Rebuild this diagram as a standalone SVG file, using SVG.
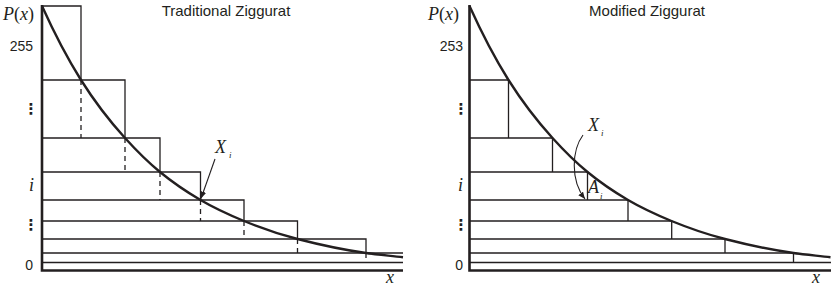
<svg xmlns="http://www.w3.org/2000/svg" width="831" height="288" viewBox="0 0 831 288">
<style>
.ln{stroke:#231f20;stroke-width:1.3;fill:none}
.dash{stroke:#231f20;stroke-width:1.3;fill:none;stroke-dasharray:5 4}
.ax{stroke:#231f20;stroke-width:2.6;fill:none}
.cv{stroke:#231f20;stroke-width:2.4;fill:none}
.ar{stroke:#231f20;stroke-width:1.1;fill:none}
.ttl{font-family:"Liberation Sans",Arial,sans-serif;font-size:15px;fill:#231f20}
.num{font-family:"Liberation Sans",Arial,sans-serif;font-size:14px;fill:#231f20}
.m{font-family:"Liberation Serif","Times New Roman",serif;font-size:18px;fill:#231f20}
.mi{font-style:italic}
.sub{font-family:"Liberation Serif","Times New Roman",serif;font-style:italic;font-size:9px;fill:#231f20}
.dots{font-family:"DejaVu Sans",sans-serif;font-size:15px;font-weight:bold;fill:#231f20}
</style>
<defs>
<path id="curve" d="M42,6 C55,34.8 68,59.3 81,80 C95.7,103.4 110.3,121.8 125,138 C136.7,150.9 148.3,162.4 160,172 C173.5,183.1 187,192.1 200.5,200 C215,208.5 229.5,215 244,221 C261.8,228.3 279.7,234.4 297.5,239 C320.3,244.9 343.2,249.8 366,253 C378.3,254.8 390.7,255.7 403,257.2"/>
<marker id="ah" markerUnits="userSpaceOnUse" markerWidth="8" markerHeight="6" refX="7" refY="3" orient="auto">
<path d="M0,0 L7,3 L0,6 z" fill="#231f20"/>
</marker>
</defs>

<g id="traditional">
<g id="trad-title"><text class="ttl" x="226" y="16" text-anchor="middle">Traditional Ziggurat</text></g>
<g id="trad-labels">
<text class="m" x="3" y="20"><tspan class="mi">P</tspan>(<tspan class="mi">x</tspan>)</text>
<text class="num" x="33" y="51" text-anchor="end">255</text>
<text class="dots" x="31" y="114" text-anchor="middle">⋮</text>
<text class="m mi" x="29" y="191">i</text>
<text class="dots" x="31" y="230" text-anchor="middle">⋮</text>
<text class="num" x="33" y="270" text-anchor="end">0</text>
<text class="m mi" x="386" y="283">x</text>
<text class="m mi" x="215" y="153">X</text>
<text class="sub" x="229" y="158">i</text>
</g>
<g id="trad-blocks">
<path class="ln" d="M42,6H81V80 M42,80H125V138 M42,138H160V172 M42,172H200.5V200 M42,200H244V221 M42,221H297.5V239 M42,239H366V253 M42,253H403 M42,262.5H403"/>
<path class="dash" d="M81,80V138 M125,138V172 M160,172V200 M200.5,200V221 M244,221V239 M297.5,239V253 M366,253V262.5"/>
</g>
<g id="trad-axes"><path class="ax" d="M42,5V270.5H403"/></g>
<use href="#curve" class="cv"/>
<g id="trad-connectors"><path class="ar" d="M215,159 L201,198.5" marker-end="url(#ah)"/></g>
</g>

<g id="modified">
<g id="mod-title"><text class="ttl" x="647" y="16" text-anchor="middle">Modified Ziggurat</text></g>
<g id="mod-labels">
<text class="m" x="428" y="20"><tspan class="mi">P</tspan>(<tspan class="mi">x</tspan>)</text>
<text class="num" x="463" y="51" text-anchor="end">253</text>
<text class="dots" x="461" y="114" text-anchor="middle">⋮</text>
<text class="m mi" x="458" y="191">i</text>
<text class="dots" x="461" y="230" text-anchor="middle">⋮</text>
<text class="num" x="463" y="270" text-anchor="end">0</text>
<text class="m mi" x="812" y="283">x</text>
<text class="m mi" x="588" y="131">X</text>
<text class="sub" x="601" y="136">i</text>
<text class="m mi" x="588" y="193" fill="#555">A</text>
<text class="sub" x="600" y="199" fill="#555">i</text>
</g>
<g id="mod-blocks">
<path class="ln" d="M469.5,80H508.5V138 M469.5,138H552.5V172 M469.5,172H587.5V200 M469.5,200H628V221 M469.5,221H671.7V239 M469.5,239H725V253 M469.5,253H793.5V262.5 M469.5,262.5H831"/>
</g>
<g id="mod-axes"><path class="ax" d="M469.5,5V270.5H831"/></g>
<use href="#curve" class="cv" transform="translate(427.5,0)"/>
<g id="mod-connectors"><path class="ar" d="M583,135 C572,150 570,180 585,199" marker-end="url(#ah)"/></g>
</g>
</svg>
